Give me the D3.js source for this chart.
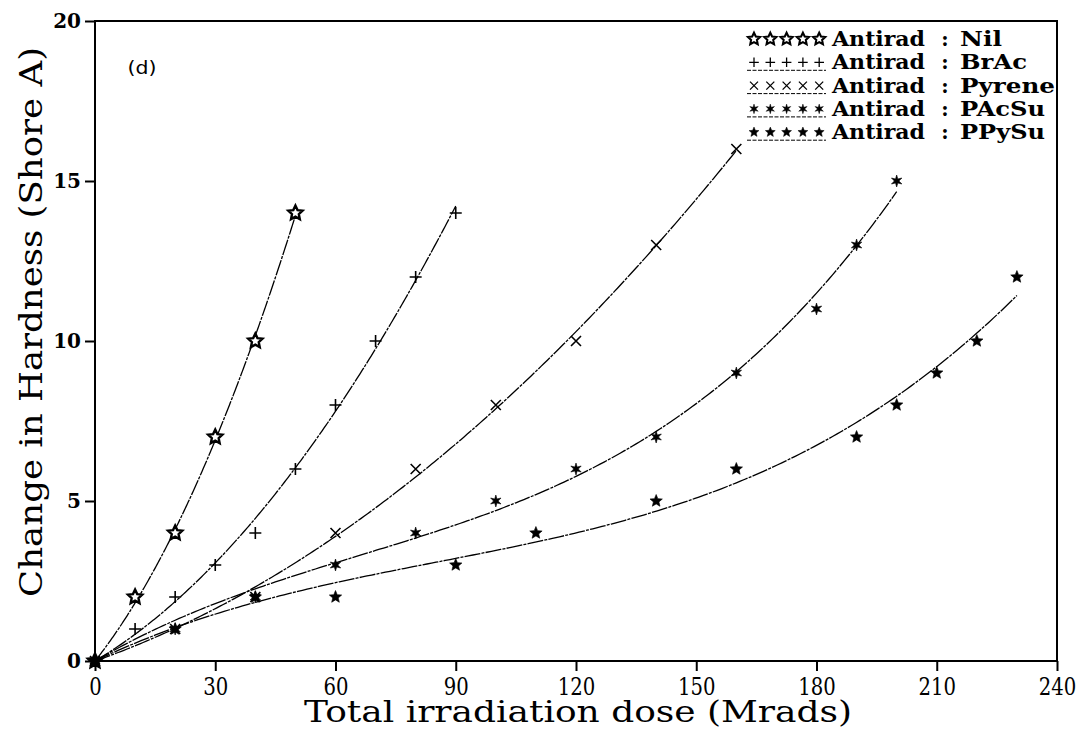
<!DOCTYPE html>
<html>
<head>
<meta charset="utf-8">
<script src="https://cdn.jsdelivr.net/npm/d3@7"></script>
<style>
  body { margin: 0; background: #fff; }
  svg { display: block; }
</style>
</head>
<body>
<svg id="chart" width="1082" height="735"></svg>
<script>
// Hardness change vs. irradiation dose for each antirad
const doseNil = [0, 10, 20, 30, 40, 50];
const hardNil = [0, 2, 4, 7, 10, 14];
const doseBrAc = [0, 10, 20, 30, 40, 50, 60, 70, 80, 90];
const hardBrAc = [0, 1, 2, 3, 4, 6, 8, 10, 12, 14];
const dosePyrene = [0, 20, 40, 60, 80, 100, 120, 140, 160];
const hardPyrene = [0, 1, 2, 4, 6, 8, 10, 13, 16];
const dosePAcSu = [0, 20, 40, 60, 80, 100, 120, 140, 160, 180, 190, 200];
const hardPAcSu = [0, 1, 2, 3, 4, 5, 6, 7, 9, 11, 13, 15];
const dosePPySu = [0, 20, 40, 60, 90, 110, 140, 160, 190, 200, 210, 220, 230];
const hardPPySu = [0, 1, 2, 2, 3, 4, 5, 6, 7, 8, 9, 10, 12];

const seriesNames = ["Nil", "BrAc", "Pyrene", "PAcSu", "PPySu"];
const fitDegrees = [2, 2, 2, 3, 3];
const xTickValues = [0, 30, 60, 90, 120, 150, 180, 210, 240];
const yTickValues = [0, 5, 10, 15, 20];
const xTitle = "Total irradiation dose (Mrads)";
const yTitle = "Change in Hardness (Shore A)";
const panelLabel = "(d)";
const legendPrefix = "Antirad";

const doses = [doseNil, doseBrAc, dosePyrene, dosePAcSu, dosePPySu];
const hards = [hardNil, hardBrAc, hardPyrene, hardPAcSu, hardPPySu];

const svg = d3.select("#chart");
const plotLeft = 95, plotRight = 1057, plotTop = 21, plotBottom = 661;
const x = d3.scaleLinear().domain([0, 240]).range([plotLeft, plotRight]);
const y = d3.scaleLinear().domain([0, 20]).range([plotBottom, plotTop]);

// Least-squares polynomial through the origin: y = c1 x + c2 x^2 + ...
function fitThroughOrigin(xs, ys, deg) {
  const s = 100;
  const n = deg;
  const A = Array.from({length: n}, () => new Array(n + 1).fill(0));
  xs.forEach((xv, k) => {
    const t = xv / s;
    const basis = d3.range(1, n + 1).map(p => Math.pow(t, p));
    for (let i = 0; i < n; i++) {
      for (let j = 0; j < n; j++) A[i][j] += basis[i] * basis[j];
      A[i][n] += basis[i] * ys[k];
    }
  });
  for (let i = 0; i < n; i++) {
    let piv = i;
    for (let r = i + 1; r < n; r++) if (Math.abs(A[r][i]) > Math.abs(A[piv][i])) piv = r;
    [A[i], A[piv]] = [A[piv], A[i]];
    for (let r = 0; r < n; r++) {
      if (r === i) continue;
      const f = A[r][i] / A[i][i];
      for (let c = i; c <= n; c++) A[r][c] -= f * A[i][c];
    }
  }
  const coef = A.map((row, i) => row[n] / row[i]);
  return xv => coef.reduce((acc, c, i) => acc + c * Math.pow(xv / s, i + 1), 0);
}

// Marker shapes
function starPath(n, R, r) {
  const pts = [];
  for (let i = 0; i < 2 * n; i++) {
    const a = -Math.PI / 2 + i * Math.PI / n;
    const rad = i % 2 === 0 ? R : r;
    pts.push([rad * Math.cos(a), rad * Math.sin(a)]);
  }
  return "M" + pts.map(p => p[0].toFixed(2) + "," + p[1].toFixed(2)).join("L") + "Z";
}
function drawMarker(g, idx) {
  if (idx === 0) {
    g.append("path").attr("d", starPath(5, 7.5, 3.6))
      .attr("fill", "#fff").attr("stroke", "#000").attr("stroke-width", 2.4)
      .attr("stroke-linejoin", "miter");
  } else if (idx === 1) {
    g.append("path").attr("d", "M-6,0H6M0,-6V6")
      .attr("stroke", "#000").attr("stroke-width", 1.6);
  } else if (idx === 2) {
    g.append("path").attr("d", "M-5,-5L5,5M-5,5L5,-5")
      .attr("stroke", "#000").attr("stroke-width", 1.6);
  } else if (idx === 3) {
    g.append("path").attr("d", starPath(6, 6, 2.3)).attr("fill", "#000")
      .attr("stroke", "#000").attr("stroke-width", 0.6);
  } else {
    g.append("path").attr("d", starPath(5, 6.5, 2.9)).attr("fill", "#000")
      .attr("stroke", "#000").attr("stroke-width", 0.6);
  }
}

// Fitted curves
const line = d3.line().x(d => x(d[0])).y(d => y(d[1])).curve(d3.curveLinear);
doses.forEach((ds, i) => {
  const f = fitThroughOrigin(ds, hards[i], fitDegrees[i]);
  const xmax = d3.max(ds);
  const pts = d3.range(0, 201).map(k => {
    const xv = xmax * k / 200;
    return [xv, f(xv)];
  });
  svg.append("path").datum(pts).attr("d", line)
    .attr("fill", "none").attr("stroke", "#000").attr("stroke-width", 1.3)
    .attr("stroke-dasharray", "16,1.2,3,1.2");
});

// Data markers
doses.forEach((ds, i) => {
  ds.forEach((dv, k) => {
    const g = svg.append("g").attr("transform", `translate(${x(dv)},${y(hards[i][k])})`);
    drawMarker(g, i);
  });
});

// Frame
svg.append("rect").attr("x", plotLeft).attr("y", plotTop)
  .attr("width", plotRight - plotLeft).attr("height", plotBottom - plotTop)
  .attr("fill", "none").attr("stroke", "#000").attr("stroke-width", 2);

// Axes
const xAxis = svg.append("g").attr("transform", `translate(0,${plotBottom})`)
  .call(d3.axisBottom(x).tickValues(xTickValues).tickSize(10).tickPadding(6));
xAxis.select(".domain").remove();
xAxis.selectAll("line").attr("stroke-width", 2);
xAxis.selectAll("text")
  .attr("font-family", "DejaVu Serif").attr("font-size", 25).attr("fill", "#000")
  .attr("textLength", d => String(d).length * 12.5)
  .attr("lengthAdjust", "spacingAndGlyphs");

const yAxis = svg.append("g").attr("transform", `translate(${plotLeft},0)`)
  .call(d3.axisLeft(y).tickValues(yTickValues).tickSize(10).tickPadding(4));
yAxis.select(".domain").remove();
yAxis.selectAll("line").attr("stroke-width", 2);
yAxis.selectAll("text")
  .attr("font-family", "DejaVu Serif").attr("font-weight", "bold")
  .attr("font-size", 20).attr("fill", "#000");

// Axis titles
svg.append("text").attr("x", (plotLeft + plotRight) / 2 + 2).attr("y", 722)
  .attr("text-anchor", "middle").attr("font-family", "DejaVu Serif")
  .attr("font-size", 30).attr("textLength", 548).attr("lengthAdjust", "spacingAndGlyphs")
  .text(xTitle);
svg.append("text").attr("transform", "translate(42,322) rotate(-90)")
  .attr("text-anchor", "middle").attr("font-family", "DejaVu Serif")
  .attr("font-size", 31).attr("textLength", 550).attr("lengthAdjust", "spacingAndGlyphs")
  .text(yTitle);

// Panel label
svg.append("text").attr("x", 142).attr("y", 74).attr("text-anchor", "middle")
  .attr("font-family", "DejaVu Sans").attr("font-size", 18)
  .attr("textLength", 29).attr("lengthAdjust", "spacingAndGlyphs").text(panelLabel);

// Legend
const legendNameWidths = [42, 67, 95, 85, 85];
seriesNames.forEach((name, i) => {
  const baseY = 46 + i * 23.3;
  const cy = baseY - 7;
  if (i > 0) {
    svg.append("line").attr("x1", 747).attr("x2", 826)
      .attr("y1", baseY + 1).attr("y2", baseY + 1)
      .attr("stroke", "#000").attr("stroke-width", 1).attr("stroke-dasharray", "4,1.5");
  }
  for (let k = 0; k < 5; k++) {
    const g = svg.append("g")
      .attr("transform", `translate(${754 + k * 16.3},${cy}) scale(${i === 0 ? 0.85 : 0.8})`);
    drawMarker(g, i);
  }
  const t = svg.append("g").attr("font-family", "DejaVu Serif").attr("font-weight", "bold")
    .attr("font-size", 20).attr("fill", "#000");
  t.append("text").attr("x", 832).attr("y", baseY)
    .attr("textLength", 93).attr("lengthAdjust", "spacingAndGlyphs").text(legendPrefix);
  t.append("text").attr("x", 945).attr("y", baseY).attr("text-anchor", "middle").text(":");
  t.append("text").attr("x", 960).attr("y", baseY)
    .attr("textLength", legendNameWidths[i]).attr("lengthAdjust", "spacingAndGlyphs").text(name);
});
</script>
</body>
</html>
